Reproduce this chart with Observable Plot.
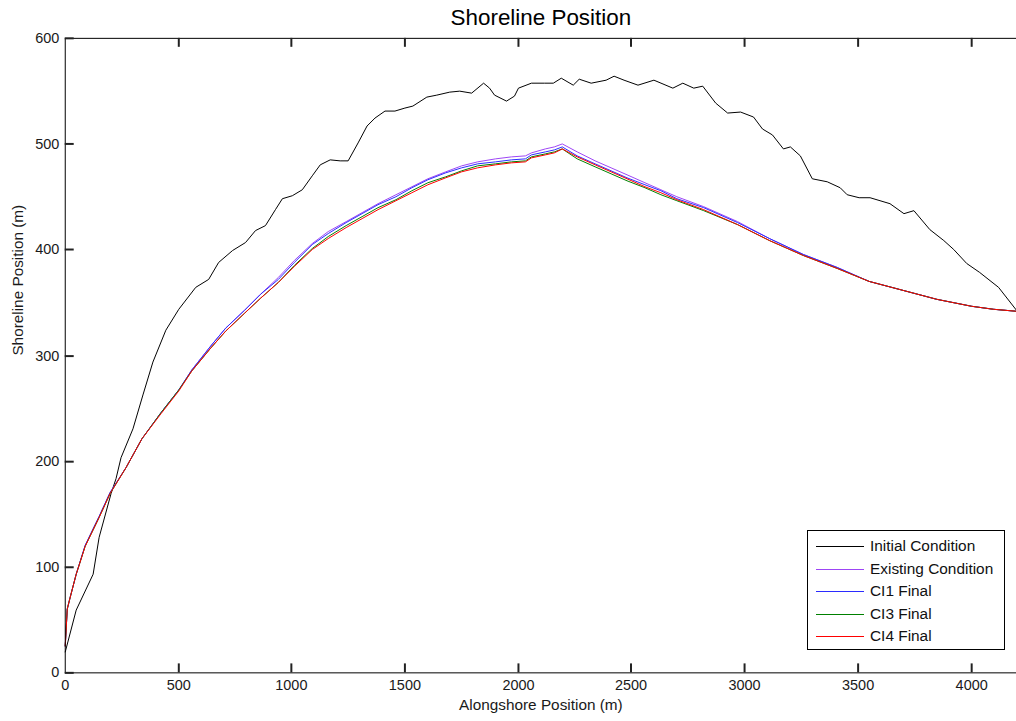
<!DOCTYPE html>
<html>
<head>
<meta charset="utf-8">
<script src="https://cdn.jsdelivr.net/npm/d3@7"></script>
<script src="https://cdn.jsdelivr.net/npm/@observablehq/plot@0.6"></script>
<style>
  html, body { margin: 0; padding: 0; background: #fff; overflow: hidden; }
  #chart { position: relative; width: 1016px; height: 721px; overflow: hidden; }
  #chart > svg { display: block; }
  .legend {
    position: absolute; left: 807px; top: 530px; width: 198px; height: 120px;
    box-sizing: border-box; border: 1px solid #000; background: #fff;
    font-family: "Liberation Sans", Arial, sans-serif; font-size: 15.4px; color: #111;
  }
  .legend .row { position: absolute; left: 0; height: 20px; line-height: 20px; white-space: nowrap; }
  .legend .swatch { position: absolute; left: 8px; top: 0; }
  .legend .label { position: absolute; left: 62px; top: 0; }
</style>
</head>
<body>
<div id="chart"></div>
<script>
// Alongshore position (m) and shoreline position (m) of the initial shoreline
const alongshoreInitial = [0, 47, 121, 151, 202, 224, 246, 298, 342, 386, 444, 503, 577, 635, 679, 738, 797, 841, 885, 929, 958, 1002, 1046, 1090, 1127, 1171, 1215, 1251, 1295, 1332, 1369, 1413, 1457, 1501, 1537, 1596, 1640, 1699, 1743, 1794, 1846, 1875, 1897, 1948, 1985, 2000, 2058, 2117, 2154, 2190, 2242, 2271, 2322, 2388, 2425, 2469, 2528, 2601, 2682, 2726, 2777, 2814, 2872, 2924, 2982, 3041, 3078, 3122, 3173, 3202, 3246, 3298, 3364, 3423, 3452, 3503, 3555, 3643, 3702, 3746, 3819, 3878, 3922, 3980, 4039, 4120, 4200];
const initialCondition = [20, 59, 93, 128, 170, 184, 203, 231, 262.5, 294, 324, 344, 364.5, 372.5, 388, 399, 407, 418, 423, 438, 448, 451, 457, 470, 480, 485.5, 484, 484, 501, 517, 525, 531, 531, 534, 536, 544.5, 546, 549, 550, 548, 557.5, 553, 546.5, 541, 545, 553, 557.5, 558, 557.5, 562, 556, 561, 558, 560, 564.5, 560, 556, 560, 553, 558, 553, 554.5, 539, 529, 530, 526, 514, 509, 495.5, 497, 488.5, 467, 464, 459, 452.5, 449.5, 449.5, 444, 434.5, 437, 419, 408.5, 400.5, 387.5, 379, 364.5, 343];

// Alongshore positions (m) shared by the existing and final shorelines
const alongshoreFinal = [0, 8, 20, 50, 90, 150, 200, 270, 340, 420, 500, 560, 640, 710, 790, 860, 940, 1010, 1090, 1160, 1240, 1310, 1380, 1460, 1530, 1600, 1680, 1750, 1820, 1900, 1970, 2030, 2060, 2120, 2160, 2195, 2260, 2340, 2410, 2480, 2560, 2630, 2700, 2820, 2970, 3110, 3260, 3410, 3550, 3700, 3850, 4000, 4100, 4200];
const existingCondition = [25, 60, 72, 93.5, 120.5, 147.5, 170.5, 194.5, 221.5, 245.5, 267.5, 286, 309, 325.5, 343, 358, 374, 390, 406, 417, 427, 435.5, 444, 452, 460, 467.5, 474, 479.5, 483.5, 486, 487.5, 488.5, 492, 495, 497, 500, 492.5, 484.5, 477.5, 470.5, 463, 457, 450, 441, 426.5, 411, 396, 383, 370.5, 361.5, 353, 347, 344, 342];
const ci1Final = [25, 60, 72, 93, 120.5, 147.5, 170.5, 194.5, 221.5, 245.5, 267.5, 286.5, 309, 325.5, 343, 357.5, 372.5, 388.5, 405, 415.5, 425.5, 434, 442.5, 450.5, 458.5, 466, 472.5, 478, 481, 483.5, 485, 486, 489.5, 492.5, 494.5, 497, 489, 481.5, 475, 468.5, 461.5, 455.5, 448.5, 440, 426, 411, 396, 383, 370.5, 361.5, 353, 347, 344, 342];
const ci3Final = [25, 60, 72, 93, 120, 147, 170, 194.5, 221.5, 245.5, 267.5, 285.5, 307.5, 323.5, 340.5, 354.5, 369.5, 385, 401, 412.5, 422.5, 431, 439.5, 447.5, 455.5, 463, 469.5, 475, 479, 481.5, 483.5, 484.5, 488, 491, 493, 495.5, 486, 478.5, 472, 465.5, 458.5, 452.5, 446, 437, 423.5, 408.5, 394.5, 382, 370.5, 362, 353.5, 347, 344, 342];
const ci4Final = [25, 60, 72, 93, 120, 147, 170, 194, 221, 245, 267, 285, 307, 323, 340, 354, 369, 384, 400, 411, 421, 429.5, 438, 446, 454, 461.5, 468, 473.5, 477.5, 480, 482, 483, 487, 490, 492, 495.5, 487.5, 480, 473.5, 467, 460, 454, 447, 438, 424, 409, 394.5, 382, 370, 361.5, 353, 347, 344, 342];

// Series names and their line colours, in drawing order
const seriesNames = ["Initial Condition", "Existing Condition", "CI1 Final", "CI3 Final", "CI4 Final"];
const seriesColors = ["#000000", "#9d45f5", "#2b2bff", "#008000", "#ff0000"];

const xTicks = [0, 500, 1000, 1500, 2000, 2500, 3000, 3500, 4000];
const yTicks = [0, 100, 200, 300, 400, 500, 600];

const toRows = (xs, ys) => xs.map((x, i) => ({x, y: ys[i]}));
const seriesRows = [
  toRows(alongshoreInitial, initialCondition),
  toRows(alongshoreFinal, existingCondition),
  toRows(alongshoreFinal, ci1Final),
  toRows(alongshoreFinal, ci3Final),
  toRows(alongshoreFinal, ci4Final)
];

const font = "'Liberation Sans', Arial, Helvetica, sans-serif";
const ink = "#1a1a1a";

// plot geometry
const W = 1020, H = 721, mTop = 38, mBottom = 46, mLeft = 65, mRight = 0;
const frameW = W - mLeft - mRight, frameH = H - mTop - mBottom;
const tickLen = 9;
const innerX = xTicks.filter(d => d > 0);

const chart = Plot.plot({
  width: W,
  height: H,
  marginTop: mTop,
  marginBottom: mBottom,
  marginLeft: mLeft,
  marginRight: mRight,
  style: {fontFamily: font, fontSize: "14.5px", color: ink, background: "#fff", overflow: "visible"},
  // whole-pixel scale output keeps the tick marks crisp
  x: {domain: [0, 4200], round: true},
  y: {domain: [0, 600], round: true},
  marks: [
    ...seriesRows.map((rows, i) =>
      Plot.line(rows, {x: "x", y: "y", stroke: seriesColors[i], strokeWidth: 1, curve: "linear"})
    ),
    Plot.frame({stroke: "#000", strokeWidth: 1}),
    // inward tick marks on the bottom, top and left edges of the box
    Plot.ruleX(innerX, {x: d => d, insetTop: frameH - tickLen, stroke: "#222", strokeWidth: 2}),
    Plot.ruleX(innerX, {x: d => d, insetBottom: frameH - tickLen, stroke: "#222", strokeWidth: 2}),
    Plot.ruleY(yTicks, {y: d => d, insetRight: frameW - tickLen, stroke: "#222", strokeWidth: 2}),
    // tick labels
    Plot.axisX({ticks: xTicks, tickSize: 0, tickPadding: 7, tickFormat: d => String(d), label: null, fill: ink}),
    Plot.axisY({ticks: yTicks, tickSize: 0, tickPadding: 6, tickFormat: d => String(d), label: null, fill: ink}),
    // axis titles and chart title
    Plot.text(["Alongshore Position (m)"], {frameAnchor: "bottom", dy: 32, lineAnchor: "middle", fontSize: 15.4, fill: ink}),
    Plot.text(["Shoreline Position (m)"], {frameAnchor: "left", dx: -47, rotate: -90, lineAnchor: "middle", fontSize: 15.4, fill: ink}),
    Plot.text(["Shoreline Position"], {frameAnchor: "top", dy: -21, lineAnchor: "middle", fontSize: 22.5, fill: "#000"})
  ]
});

const container = document.getElementById("chart");
container.appendChild(chart);

// legend box
const legend = document.createElement("div");
legend.className = "legend";
const svgNS = "http://www.w3.org/2000/svg";
seriesNames.forEach((name, i) => {
  const row = document.createElement("div");
  row.className = "row";
  row.style.top = (5 + i * 22.5) + "px";
  const sw = document.createElementNS(svgNS, "svg");
  sw.setAttribute("class", "swatch");
  sw.setAttribute("width", "48");
  sw.setAttribute("height", "20");
  const ln = document.createElementNS(svgNS, "line");
  ln.setAttribute("x1", "0");
  ln.setAttribute("x2", "48");
  ln.setAttribute("y1", "10.5");
  ln.setAttribute("y2", "10.5");
  ln.setAttribute("stroke", seriesColors[i]);
  ln.setAttribute("stroke-width", "1");
  sw.appendChild(ln);
  const lb = document.createElement("span");
  lb.className = "label";
  lb.textContent = name;
  row.appendChild(sw);
  row.appendChild(lb);
  legend.appendChild(row);
});
container.appendChild(legend);
</script>
</body>
</html>
